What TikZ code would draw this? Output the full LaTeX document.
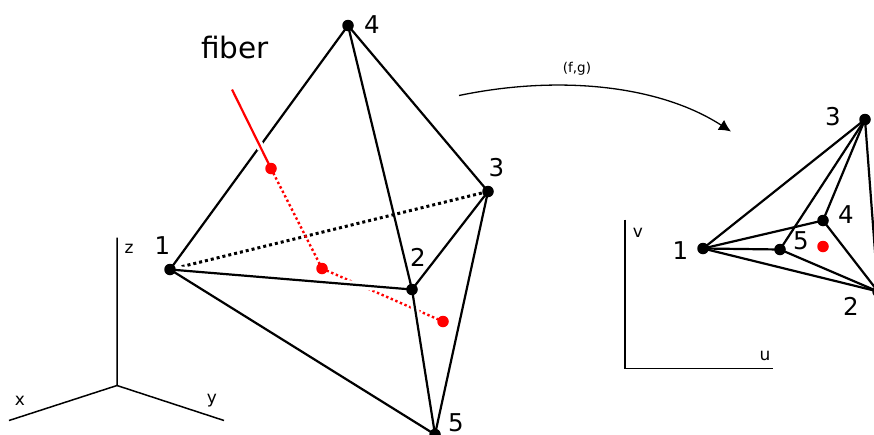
\documentclass[tikz,border=0pt]{standalone}
\usepackage{fontspec}
\setmainfont{DejaVu Sans}
\usetikzlibrary{arrows.meta,calc}
\tikzset{
 x=1pt,y=-1pt,
 vtx/.style={circle,fill=black,inner sep=0pt,minimum size=11.5pt},
 rvtx/.style={circle,fill=red,inner sep=0pt,minimum size=11.5pt},
 edge/.style={line width=2.2pt,black},
 halo/.style={line width=8pt,white},
 farline/.style={line width=3pt,black,dash pattern=on 3pt off 3pt},
 fibredots/.style={red,line width=2.4pt,dash pattern=on 2.4pt off 2.6pt},
 num/.style={font=\fontsize{24.5}{24.5}\selectfont,inner sep=0pt,text=black},
 small/.style={font=\fontsize{17}{17}\selectfont,inner sep=0pt,text=black},
 axis/.style={line width=1.5pt,black},
}
\begin{document}
\begin{tikzpicture}
\clip (0,-0.5) rectangle (874,433.5);
\useasboundingbox (0,-0.5) rectangle (874,433.5);
% left solid
\coordinate (a1) at (170,269);
\coordinate (a2) at (412,289);
\coordinate (a3) at (488,191);
\coordinate (a4) at (348,25);
\coordinate (a5) at (435,434);
\coordinate (r0) at (232,89);
\coordinate (r1) at (271,168);
\coordinate (r2) at (322,268);
\coordinate (r3) at (443,321);
% far edges and fibre
\draw[farline] (a1) -- (a3);
\draw[fibredots] (r1) -- (r2);
\draw[fibredots] (r2) -- (r3);
% edges
\draw[edge] (a1) -- (a4);
\draw[halo] (a1) -- (a2);
\draw[edge] (a1) -- (a2);
\draw[edge] (a1) -- (a5);
\draw[edge] (a4) -- (a3);
\draw[edge] (a4) -- (a2);
\draw[edge] (a2) -- (a3);
\draw[edge] (a3) -- (a5);
\path (a2) -- (a5) coordinate[pos=0.06] (h1) coordinate[pos=0.3] (h2);
\draw[halo] (h1) -- (h2);
\draw[edge] (a2) -- (a5);
\draw[white,line width=8pt] ($(r0)!0.3!(r1)$) -- ($(r0)!0.75!(r1)$);
\draw[red,line width=2.2pt] (r0) -- (r1);
\node[vtx] (n1) at (a1) {};
\node[vtx] (n2) at (a2) {};
\node[vtx] (n3) at (a3) {};
\node[vtx] (n4) at (a4) {};
\node[vtx] (n5) at (a5) {};
\node[rvtx] (f1) at (r1) {};
\node[rvtx] (f2) at (r2) {};
\node[rvtx] (f3) at (r3) {};
\node[num] at (162.5,245) {1};
\node[num] at (418,257) {2};
\node[num] at (496.5,167) {3};
\node[num] at (372,24) {4};
\node[num] at (456,422.5) {5};
\node[font=\fontsize{29.5}{29.5}\selectfont,inner sep=0pt,text=black] at (235,47) {fiber};
% left axes
\coordinate (o) at (117,385);
\coordinate (oz) at (117,237);
\coordinate (ox) at (9,420);
\coordinate (oy) at (224,420);
\draw[axis] (oz) -- (o) -- (ox);
\draw[axis] (o) -- (oy);
\node[small] at (129,248) {z};
\node[small] at (20,400) {x};
\node[small] at (212,400) {y};
% map arrow
\coordinate (m0) at (459,95);
\coordinate (m1) at (731,131);
\draw[line width=1.3pt,-{Latex[length=12pt,width=12pt]}] (m0) .. controls (560,74) and (660,85) .. (m1);
\node[font=\fontsize{13.5}{13.5}\selectfont,inner sep=0pt,text=black] at (577,68) {(f,g)};
% right
\coordinate (b1) at (703,248);
\coordinate (b2) at (878,291);
\coordinate (b3) at (865,119);
\coordinate (b4) at (823,220);
\coordinate (b5) at (780,249);
\draw[edge] (b1) -- (b3);
\draw[edge] (b1) -- (b4);
\draw[edge] (b1) -- (b5);
\draw[edge] (b1) -- (b2);
\draw[edge] (b3) -- (b4);
\draw[edge] (b3) -- (b5);
\draw[edge] (b3) -- (b2);
\draw[edge] (b4) -- (b2);
\draw[edge] (b5) -- (b2);
\node[vtx] (q1) at (b1) {};
\node[vtx] (q2) at (b2) {};
\node[vtx] (q3) at (b3) {};
\node[vtx] (q4) at (b4) {};
\node[vtx] (q5) at (b5) {};
\node[rvtx] (qr) at (823,246) {};
\node[num] at (680.5,250) {1};
\node[num] at (851,306) {2};
\node[num] at (833,116) {3};
\node[num] at (846,214) {4};
\node[num] at (801,240) {5};
% right axes
\coordinate (p) at (625,368);
\coordinate (pv) at (625,219);
\coordinate (pu) at (773,368);
\draw[axis] (pv) -- (p) -- (pu);
\node[small] at (638,232) {v};
\node[small] at (765,355) {u};
\end{tikzpicture}
\end{document}
